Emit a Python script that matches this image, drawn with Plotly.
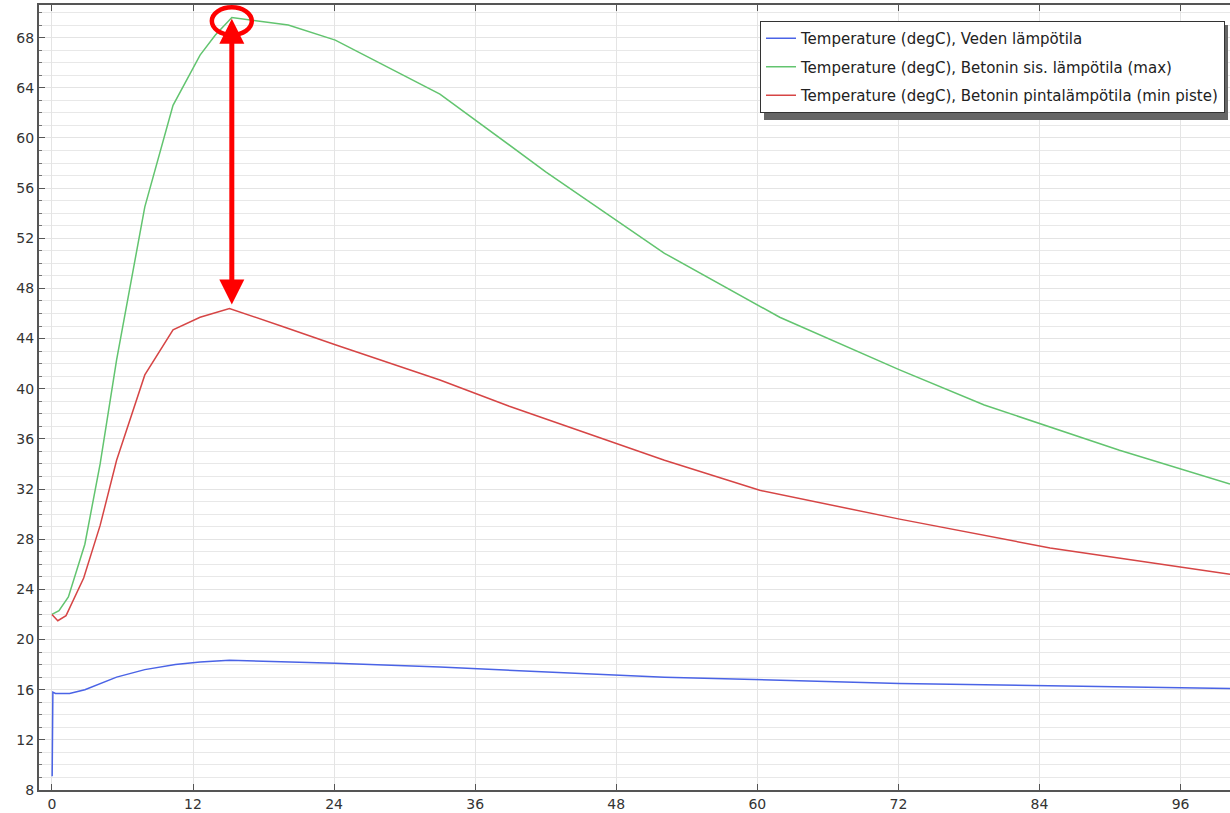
import plotly.graph_objects as go

# Time (h) and temperatures (degC)
t_green = [0.0, 0.6, 1.4, 2.8, 4.1, 5.5, 7.9, 10.3, 12.6, 13.9, 15.3, 16.8, 20.1, 24.1, 33.0, 42.0, 52.1, 61.9, 72.1, 79.3, 90.8, 100.2]
y_green = [22.0, 22.3, 23.4, 27.6, 34.0, 42.3, 54.5, 62.6, 66.6, 68.2, 69.6, 69.4, 69.0, 67.8, 63.5, 57.3, 50.8, 45.7, 41.5, 38.7, 35.1, 32.4]

t_red = [0.0, 0.5, 1.2, 2.7, 4.1, 5.5, 7.9, 10.3, 12.6, 15.1, 19.8, 24.1, 33.0, 38.9, 52.1, 60.2, 72.1, 84.9, 100.2]
y_red = [22.0, 21.5, 21.9, 24.9, 29.1, 34.3, 41.1, 44.7, 45.7, 46.4, 44.9, 43.5, 40.7, 38.6, 34.3, 31.9, 29.6, 27.3, 25.2]

t_blue = [0.02, 0.08, 0.3, 1.5, 2.8, 4.1, 5.5, 7.9, 10.5, 12.6, 15.1, 24.1, 33.0, 52.1, 72.1, 100.2]
y_blue = [9.1, 15.8, 15.7, 15.7, 16.0, 16.5, 17.0, 17.6, 18.0, 18.2, 18.35, 18.1, 17.8, 17.0, 16.5, 16.1]

names = [
    "Temperature (degC), Veden lämpötila",
    "Temperature (degC), Betonin sis. lämpötila (max)",
    "Temperature (degC), Betonin pintalämpötila (min piste)",
]
colors = ["#4a63e6", "#62c46f", "#d64545"]

x_ticks = [0, 12, 24, 36, 48, 60, 72, 84, 96]
y_ticks = list(range(8, 70, 4))

fig = go.Figure()
for i, (tx, ty) in enumerate([(t_blue, y_blue), (t_green, y_green), (t_red, y_red)]):
    fig.add_trace(go.Scatter(x=tx, y=ty, mode="lines", name=names[i],
                             line=dict(color=colors[i], width=1.5),
                             legendgroup=f"g{i}"))

# annotation: arrow between peaks, circle on green peak
ig = max(range(len(y_green)), key=lambda k: y_green[k])
ir = max(range(len(y_red)), key=lambda k: y_red[k])
px, py = t_green[ig], y_green[ig]
rx, ry = t_red[ir], y_red[ir]

fig.add_annotation(x=px, y=py - 0.1, ax=px, ay=ry + 0.2, xref="x", yref="y",
                   axref="x", ayref="y", showarrow=True, text="",
                   arrowhead=2, arrowside="end+start", arrowsize=1.0,
                   arrowwidth=5, arrowcolor="#ff0000", startarrowhead=2,
                   startarrowsize=1.0)
fig.add_shape(type="circle", xref="x", yref="y",
              x0=px - 1.7, x1=px + 1.7, y0=py - 0.28 - 1.1, y1=py - 0.28 + 1.1,
              line=dict(color="#ff0000", width=4.5))

# plot-area pixel geometry helpers for legend placement
L, R, T, B = 39, 1230, 5, 790
def pxx(v):
    return (v - L) / (R - L)
def pxy(v):
    return (B - v) / (B - T)

# legend drop shadow
fig.add_shape(type="rect", xref="paper", yref="paper", layer="above",
              x0=pxx(764), x1=pxx(1228), y0=pxy(120), y1=pxy(25),
              line=dict(width=0), fillcolor="#666666")

fig.update_layout(
    width=1230, height=813,
    margin=dict(l=L, r=0, t=T, b=813 - B, autoexpand=False),
    paper_bgcolor="white", plot_bgcolor="white",
    font=dict(family="DejaVu Sans", size=14, color="#333333"),
    showlegend=True,
    legend=dict(x=pxx(1225), y=pxy(21), xanchor="right", yanchor="top",
                bgcolor="white", bordercolor="#333333", borderwidth=1,
                font=dict(family="DejaVu Sans", size=15, color="#222222"),
                tracegroupgap=6, itemwidth=30),
)
fig.update_xaxes(range=[-1.1, 100.2], tickvals=x_ticks, ticktext=[str(v) for v in x_ticks],
                 automargin=False,
                 showgrid=True, gridcolor="#e4e4e4", gridwidth=1,
                 showline=True, linecolor="#555555", linewidth=2, mirror="ticks",
                 ticks="inside", ticklen=6, tickcolor="#555555", zeroline=False,
                 tickfont=dict(size=14, color="#333333"))
fig.update_yaxes(range=[8, 70.6], tickvals=y_ticks, ticktext=[str(v) for v in y_ticks],
                 automargin=False,
                 showgrid=True, gridcolor="#e4e4e4", gridwidth=1,
                 minor=dict(dtick=1, tick0=0, showgrid=True, gridcolor="#e8e8e8",
                            ticks="inside", ticklen=3, tickcolor="#777777"),
                 showline=True, linecolor="#555555", linewidth=2, mirror=False,
                 ticks="inside", ticklen=6, tickcolor="#555555", zeroline=False,
                 tickfont=dict(size=14, color="#333333"))

fig.write_html("out.html", config={"displayModeBar": False},
               post_script="document.body.style.margin='0';document.body.style.overflow='hidden';")
